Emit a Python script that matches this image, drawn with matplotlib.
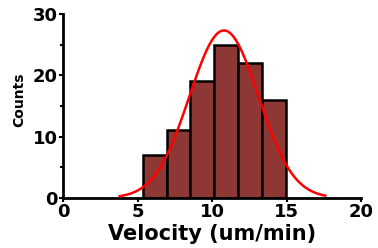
import numpy as np
import matplotlib.pyplot as plt
from matplotlib.ticker import MultipleLocator

plt.rcParams['font.family'] = ['DejaVu Sans']

# histogram data
bin_edges = [5.35, 6.95, 8.55, 10.15, 11.75, 13.35, 14.95]
counts = [7, 11, 19, 25, 22, 16]

# fitted gaussian
fit_amp = 27.3
fit_mean = 10.8
fit_sd = 2.32
fit_range = [3.8, 17.6]

fig = plt.figure(figsize=(3.78, 2.48), dpi=100)
ax = fig.add_axes([0.167, 0.202, 0.788, 0.742])

lefts = np.array(bin_edges[:-1])
widths = np.diff(bin_edges)
ax.bar(lefts, counts, width=widths, align='edge', color='#8e3836',
       edgecolor='black', linewidth=1.8, zorder=2)

xs = np.linspace(fit_range[0], fit_range[1], 300)
ys = fit_amp * np.exp(-(xs - fit_mean) ** 2 / (2 * fit_sd ** 2))
ax.plot(xs, ys, color='#ff0000', linewidth=1.8, zorder=3)

ax.set_xlim(0, 20)
ax.set_ylim(0, 30)
ax.xaxis.set_major_locator(MultipleLocator(5))
ax.yaxis.set_major_locator(MultipleLocator(10))
ax.yaxis.set_minor_locator(MultipleLocator(5))

for s in ['top', 'right']:
    ax.spines[s].set_visible(False)
for s in ['left', 'bottom']:
    ax.spines[s].set_linewidth(2)

ax.tick_params(axis='both', which='major', length=3, width=1.5, pad=1,
               labelsize=13)
ax.tick_params(axis='y', which='minor', length=2, width=1.5)
for lab in ax.get_xticklabels() + ax.get_yticklabels():
    lab.set_fontweight('bold')

ax.set_xlabel('Velocity (um/min)', fontsize=15, fontweight='bold', va='center')
ax.xaxis.set_label_coords(0.5, -0.196)
ax.set_ylabel('Counts', fontsize=10, fontweight='bold', va='center')
ax.yaxis.set_label_coords(-0.148, 0.533)

fig.savefig('out.png', dpi=100)
